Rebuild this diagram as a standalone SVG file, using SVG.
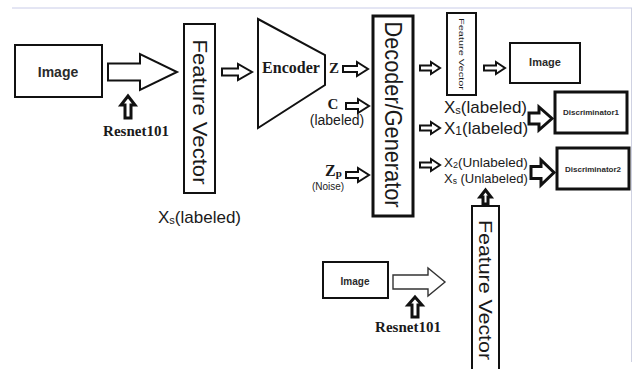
<svg xmlns="http://www.w3.org/2000/svg" width="638" height="369" viewBox="0 0 638 369">
  <defs>
    <style>
      .box { fill: #fff; stroke: #111; stroke-width: 2; }
      .thick { fill: #fff; stroke: #111; stroke-width: 3; }
      .arr { fill: #fff; stroke: #111; stroke-width: 2; stroke-linejoin: miter; }
      .arrThin { fill: #fff; stroke: #333; stroke-width: 1.4; stroke-linejoin: miter; }
      .arrBold { fill: #fff; stroke: #111; stroke-width: 3; stroke-linejoin: miter; }
      .sans { font-family: "Liberation Sans", Arial, sans-serif; fill: #1a1a1a; }
      .serifB { font-family: "Liberation Serif", "Times New Roman", serif; font-weight: bold; fill: #1a1a1a; }
      .label { font-family: "Liberation Sans", Arial, sans-serif; font-weight: bold; fill: #2a2a2a; text-anchor: middle; }
    </style>
  </defs>

  <rect width="638" height="369" fill="#fff"/>
  <!-- page frame -->
  <line x1="12" y1="8" x2="632" y2="8" stroke="#c9cce8" stroke-width="1"/>
  <line x1="631.5" y1="8" x2="631.5" y2="362" stroke="#cfd2e2" stroke-width="1"/>

  <!-- nodes -->
  <g id="image-source">
    <rect class="box" x="15" y="45" width="87" height="52"/>
    <text class="label" x="58" y="77" font-size="14">Image</text>
  </g>

  <g id="resnet-top">
    <text class="serifB" x="136" y="136" font-size="15" text-anchor="middle">Resnet101</text>
  </g>

  <g id="feature-vector-source">
    <rect class="box" x="184" y="24" width="31" height="169"/>
    <text class="sans" transform="translate(200,112) rotate(90)" x="0" y="7" font-size="20" text-anchor="middle" textLength="145" lengthAdjust="spacingAndGlyphs">Feature Vector</text>
  </g>

  <g id="xs-labeled-source">
    <text class="sans" x="158" y="223" font-size="17">X<tspan font-size="11" dy="1">s</tspan><tspan dy="-1">(labeled)</tspan></text>
  </g>

  <g id="encoder">
    <path d="M258,19 L325,55 L325,85 L258,128 Z" fill="#fff" stroke="#111" stroke-width="2" stroke-linejoin="miter"/>
    <text class="serifB" x="291" y="73" font-size="16" text-anchor="middle">Encoder</text>
  </g>

  <g id="z-latent">
    <text class="serifB" x="329" y="73" font-size="15">Z</text>
  </g>

  <g id="c-labeled">
    <text class="serifB" x="333" y="109" font-size="15" text-anchor="middle">C</text>
    <text class="sans" x="337" y="125" font-size="14" text-anchor="middle" fill="#333">(labeled)</text>
  </g>

  <g id="zp-noise">
    <text class="serifB" x="325" y="176" font-size="16">Z<tspan font-size="11" dy="1">p</tspan></text>
    <text class="sans" x="328" y="190" font-size="10" text-anchor="middle" fill="#555">(Noise)</text>
  </g>

  <g id="decoder-generator">
    <rect class="thick" x="373" y="16" width="40" height="200"/>
    <text class="sans" transform="translate(393,114.5) rotate(90)" x="0" y="8" font-size="23" text-anchor="middle" textLength="186" lengthAdjust="spacingAndGlyphs">Decoder/Generator</text>
  </g>

  <g id="feature-vector-generated">
    <rect class="box" x="447" y="13" width="29" height="82"/>
    <text class="sans" transform="translate(461.5,54) rotate(90)" x="0" y="3" font-size="8" text-anchor="middle" textLength="72" lengthAdjust="spacingAndGlyphs" fill="#333">Feature Vector</text>
  </g>

  <g id="image-generated">
    <rect class="box" x="510" y="43" width="70" height="40"/>
    <text class="label" x="545" y="66" font-size="11">Image</text>
  </g>

  <g id="labeled-pair">
    <text class="sans" x="444" y="113" font-size="17">X<tspan font-size="11" dy="1">s</tspan><tspan dy="-1">(labeled)</tspan></text>
    <text class="sans" x="444" y="134" font-size="17">X<tspan font-size="12" dy="1">1</tspan><tspan dy="-1">(labeled)</tspan></text>
  </g>

  <g id="discriminator1">
    <rect class="thick" x="555" y="92" width="72" height="41"/>
    <text class="label" x="591" y="115" font-size="8">Discriminator1</text>
  </g>

  <g id="unlabeled-pair">
    <text class="sans" x="444" y="167" font-size="13.5">X<tspan font-size="9" dy="1">2</tspan><tspan dy="-1">(Unlabeled)</tspan></text>
    <text class="sans" x="444" y="183" font-size="13">X<tspan font-size="8.5" dy="1">s</tspan><tspan dy="-1"> (Unlabeled)</tspan></text>
  </g>

  <g id="discriminator2">
    <rect class="thick" x="557" y="148" width="72" height="41"/>
    <text class="label" x="593" y="172" font-size="8">Discriminator2</text>
  </g>

  <g id="image-target">
    <rect class="box" x="323" y="262" width="65" height="36" stroke-width="1.5"/>
    <text class="label" x="355" y="285" font-size="10" fill="#444">Image</text>
  </g>

  <g id="resnet-bottom">
    <text class="serifB" x="408" y="332" font-size="15" text-anchor="middle">Resnet101</text>
  </g>

  <g id="feature-vector-target">
    <rect class="box" x="472" y="206" width="27" height="172"/>
    <text class="sans" transform="translate(485.5,290) rotate(90)" x="0" y="7" font-size="19" text-anchor="middle" textLength="140" lengthAdjust="spacingAndGlyphs">Feature Vector</text>
  </g>

  <!-- connectors -->
  <g id="connectors">
    <!-- Image -> Feature Vector -->
    <path class="arr" d="M108,63.5 H140 V54 L177,72 L140,90 V80.5 H108 Z" stroke-width="1.8"/>
    <!-- Resnet101 -> upper arrow -->
    <path class="arrBold" d="M125,118 V105 H121 L128,96 L135,105 H131 V118 Z" stroke-width="2.2"/>
    <!-- Feature Vector -> Encoder -->
    <path class="arr" d="M222,68.5 H238 V64 L252,72 L238,80 V75.5 H222 Z"/>
    <!-- Z -> Decoder -->
    <path class="arr" d="M343,66 H357 V62 L368,69 L357,76 V72 H343 Z" stroke-width="2.2"/>
    <!-- C -> Decoder -->
    <path class="arr" d="M346,103 H358 V99 L369,106 L358,113 V109 H346 Z" stroke-width="2.2"/>
    <!-- Zp -> Decoder -->
    <path class="arr" d="M346,172 H358 V168 L369,175 L358,182 V178 H346 Z" stroke-width="2.2"/>
    <!-- Decoder -> Feature Vector -->
    <path class="arr" d="M420,65.5 H431 V62 L440,68 L431,74 V70.5 H420 Z" stroke-width="1.8"/>
    <!-- Feature Vector -> Image -->
    <path class="arr" d="M484,65.5 H496 V62 L505,68 L496,74 V70.5 H484 Z" stroke-width="1.8"/>
    <!-- Decoder -> X1 -->
    <path class="arr" d="M420,125.5 H431 V122 L440,128 L431,134 V130.5 H420 Z" stroke-width="1.8"/>
    <!-- Decoder -> X2 -->
    <path class="arr" d="M420,162.5 H431 V159 L440,165 L431,171 V167.5 H420 Z" stroke-width="1.8"/>
    <!-- labeled pair -> Discriminator1 -->
    <path class="arrBold" d="M529,113 H539 V107 L552,118.5 L539,130 V124 H529 Z"/>
    <!-- unlabeled pair -> Discriminator2 -->
    <path class="arrBold" d="M531,166.5 H541 V160 L554,172.5 L541,185 V178.5 H531 Z"/>
    <!-- Feature Vector -> Xs (Unlabeled) -->
    <path class="arrBold" d="M483,204 V197 H480 L485.5,190 L491,197 H488 V204 Z" stroke-width="2.2"/>
    <!-- Image -> Feature Vector (target) -->
    <path class="arrThin" d="M393,275 H428 V268 L445,282 L428,296 V289 H393 Z"/>
    <!-- Resnet101 -> lower arrow -->
    <path class="arrBold" d="M412,317 V305 H408 L415,297 L422,305 H418 V317 Z" stroke-width="2.2"/>
  </g>
</svg>
